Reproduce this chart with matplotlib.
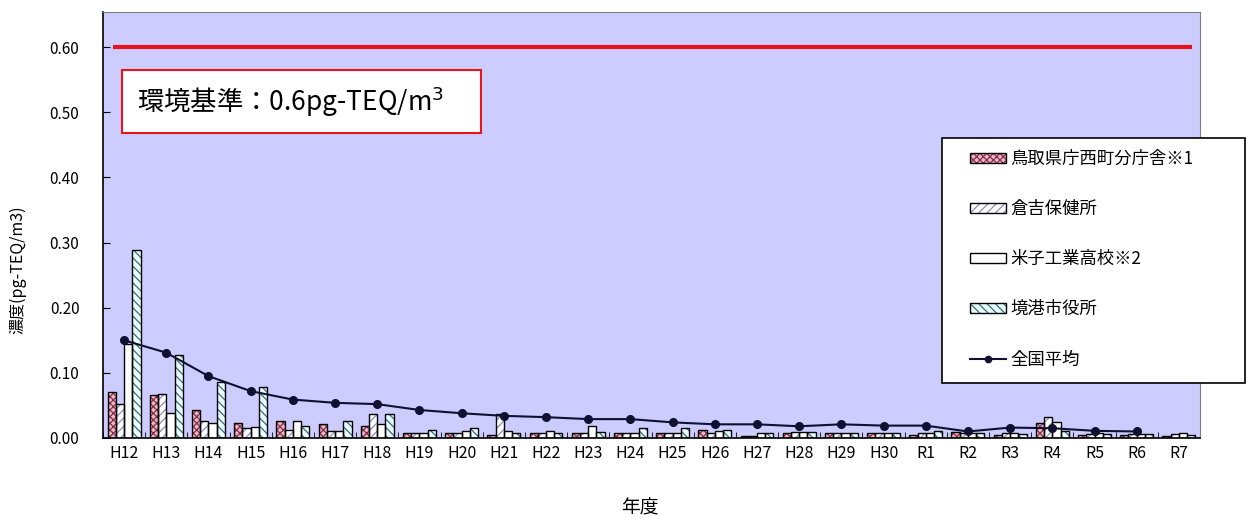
import numpy as np
import matplotlib.pyplot as plt
from matplotlib.patches import Patch, Rectangle
from matplotlib.lines import Line2D

plt.rcParams['font.family'] = ['Noto Sans CJK JP', 'DejaVu Sans']
plt.rcParams['hatch.linewidth'] = 0.9

# 年度
years = ['H12', 'H13', 'H14', 'H15', 'H16', 'H17', 'H18', 'H19', 'H20', 'H21',
         'H22', 'H23', 'H24', 'H25', 'H26', 'H27', 'H28', 'H29', 'H30',
         'R1', 'R2', 'R3', 'R4', 'R5', 'R6', 'R7']

# 各測定地点の濃度 (pg-TEQ/m3)
tottori = [0.071, 0.066, 0.043, 0.023, 0.026, 0.021, 0.018, 0.008, 0.007, 0.005,
           0.007, 0.007, 0.007, 0.007, 0.012, 0.003, 0.007, 0.007, 0.007,
           0.005, 0.009, 0.005, 0.023, 0.005, 0.005, 0.003]
kurayoshi = [0.052, 0.067, 0.026, 0.015, 0.013, 0.010, 0.037, 0.008, 0.007, 0.037,
             0.007, 0.007, 0.007, 0.008, 0.008, 0.003, 0.009, 0.008, 0.008,
             0.007, 0.007, 0.007, 0.032, 0.006, 0.006, 0.006]
yonago = [0.145, 0.038, 0.023, 0.017, 0.026, 0.010, 0.022, 0.008, 0.010, 0.010,
          0.011, 0.018, 0.008, 0.008, 0.010, 0.007, 0.009, 0.008, 0.008,
          0.008, 0.007, 0.008, 0.024, 0.007, 0.006, 0.007]
sakaiminato = [0.288, 0.128, 0.086, 0.079, 0.019, 0.026, 0.037, 0.012, 0.015, 0.008,
               0.008, 0.009, 0.015, 0.015, 0.012, 0.007, 0.009, 0.008, 0.008,
               0.010, 0.007, 0.006, 0.010, 0.006, 0.006, 0.005]
national = [0.150, 0.131, 0.095, 0.072, 0.059, 0.054, 0.052, 0.043, 0.038, 0.034,
            0.032, 0.029, 0.029, 0.024, 0.021, 0.021, 0.018, 0.021, 0.019,
            0.019, 0.010, 0.016, 0.015, 0.011, 0.010, np.nan]

names = ['鳥取県庁西町分庁舎※1', '倉吉保健所', '米子工業高校※2', '境港市役所', '全国平均']
standard = 0.6

fig = plt.figure(figsize=(12.55, 5.18), dpi=100)
ax = fig.add_axes([103 / 1255, 1 - 438 / 518, 1097 / 1255, 426 / 518])
ax.set_facecolor('#ccccff')

x = np.arange(len(years))
w = 0.195
styles = [
    dict(fc='#e8b8c4', hc='#8b2c4c', hatch='xxxxx'),
    dict(fc='#ffffff', hc='#8c8cc0', hatch='////'),
    dict(fc='#ffffff', hc='#ffffff', hatch=None),
    dict(fc='#eaffff', hc='#3a6a7a', hatch='\\\\\\\\'),
]
series = [tottori, kurayoshi, yonago, sakaiminato]
handles = []
for i, (vals, st) in enumerate(zip(series, styles)):
    pos = x + (i - 1.5) * w
    ax.bar(pos, vals, w, color=st['fc'], edgecolor=st['hc'], hatch=st['hatch'],
           linewidth=0, zorder=2)
    ax.bar(pos, vals, w, fill=False, edgecolor='black', linewidth=1.0, zorder=3)
    h1 = Patch(facecolor=st['fc'], edgecolor=st['hc'], hatch=st['hatch'], linewidth=0)
    h2 = Patch(fill=False, edgecolor='black', linewidth=1.0)
    handles.append((h1, h2))

ax.plot(x, national, color='#101030', lw=1.5, marker='o', ms=5.5, zorder=4)
handles.append(Line2D([], [], color='#101030', lw=1.5, marker='o', ms=4.5))

ax.hlines(standard, -0.26, 25.3, color='#e8141c', lw=3, zorder=4)

ax.set_xlim(-0.5, len(years) - 0.5)
ax.set_ylim(0, 0.654)
ax.set_yticks(np.arange(0, 0.61, 0.1))
ax.set_yticklabels([f'{v:.2f}' for v in np.arange(0, 0.61, 0.1)], fontsize=11)
ax.set_xticks(x)
ax.set_xticklabels(years, fontsize=11.5)
ax.set_xticks(np.arange(-0.5, len(years), 1), minor=True)
ax.tick_params(axis='x', which='major', length=0, pad=5)
ax.tick_params(axis='x', which='minor', length=4, direction='in')
ax.tick_params(axis='y', length=5, direction='in', pad=17)
for s in ['top', 'right']:
    ax.spines[s].set_color('#808080')
ax.spines['left'].set_linewidth(1.2)
ax.spines['bottom'].set_linewidth(1.2)

fig.text(18 / 1255, 1 - 270 / 518, '濃度(pg-TEQ/m3)', rotation=90,
         ha='center', va='center', fontsize=11.5)
fig.text(640 / 1255, 1 - 508 / 518, '年度', ha='center', va='center', fontsize=13.5)

# 環境基準ボックス
fig.add_artist(Rectangle((122 / 1255, 1 - 133 / 518), 359 / 1255, 63 / 518,
                         transform=fig.transFigure, facecolor='white',
                         edgecolor='#e8141c', lw=1.5, zorder=3))
fig.text(137 / 1255, 1 - 102 / 518, '環境基準：0.6pg-TEQ/m$^3$', fontsize=19,
         ha='left', va='center', zorder=4)

# 凡例
fig.add_artist(Rectangle((942 / 1255, 1 - 383 / 518), 303 / 1255, 245 / 518,
                         transform=fig.transFigure, facecolor='white',
                         edgecolor='black', lw=1.2, zorder=3))
leg = fig.legend(handles, names, loc='upper left',
                 bbox_to_anchor=(970 / 1255, 1 - 150 / 518), frameon=False,
                 fontsize=12.5, borderpad=0, borderaxespad=0, labelspacing=1.85,
                 handlelength=2.1, handleheight=0.55, handletextpad=0.2)
leg.set_zorder(4)

fig.savefig('out.png', dpi=100)
